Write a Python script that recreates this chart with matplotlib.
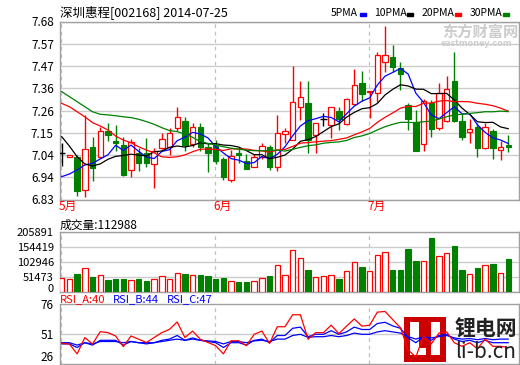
import numpy as np
import pandas as pd
import matplotlib
matplotlib.use('Agg')
import matplotlib.pyplot as plt
from matplotlib.patches import Rectangle

plt.rcParams['font.family'] = ['Noto Sans CJK SC', 'DejaVu Sans']

# 深圳惠程 日K 2014-05-05 ~ 2014-07-25 (59 trading days)
opens = [7.051, 7.033, 7.034, 6.875, 7.079, 7.034, 7.157, 7.109, 7.090, 6.971,
         7.051, 7.053, 6.998, 7.075, 7.081, 7.170, 7.205, 7.095, 7.175, 7.079,
         7.090, 7.023, 6.923, 7.051, 7.014, 6.987, 7.034, 7.079, 6.987, 7.143,
         7.115, 7.273, 7.289, 7.140, 7.213, 7.186, 7.254, 7.189, 7.285, 7.388,
         7.344, 7.340, 7.485, 7.510, 7.456, 7.281, 7.202, 7.094, 7.289, 7.170,
         7.205, 7.396, 7.206, 7.151, 7.175, 7.075, 7.157, 7.066, 7.090]
highs = [7.100, 7.043, 7.043, 7.234, 7.127, 7.178, 7.197, 7.186, 7.130, 7.117,
         7.075, 7.122, 7.075, 7.146, 7.170, 7.270, 7.225, 7.194, 7.197, 7.101,
         7.114, 7.034, 7.066, 7.079, 7.047, 7.047, 7.098, 7.090, 7.234, 7.170,
         7.469, 7.397, 7.396, 7.195, 7.242, 7.272, 7.270, 7.313, 7.452, 7.444,
         7.350, 7.536, 7.659, 7.568, 7.488, 7.290, 7.257, 7.310, 7.305, 7.388,
         7.420, 7.536, 7.238, 7.215, 7.197, 7.197, 7.165, 7.111, 7.138]
lows = [6.990, 7.031, 6.848, 6.840, 6.920, 7.030, 7.111, 7.063, 6.942, 6.939,
        6.968, 6.987, 6.886, 7.070, 7.043, 7.159, 7.063, 7.079, 7.063, 6.963,
        6.999, 6.923, 6.915, 7.003, 6.976, 6.985, 7.025, 6.971, 6.968, 7.101,
        7.112, 7.210, 7.053, 7.051, 7.181, 7.122, 7.162, 7.186, 7.283, 7.302,
        7.218, 7.297, 7.440, 7.440, 7.353, 7.162, 7.060, 7.060, 7.128, 7.160,
        7.200, 7.200, 7.114, 7.101, 7.034, 7.070, 7.022, 7.019, 7.055]
closes = [7.051, 7.041, 6.872, 7.070, 6.979, 7.156, 7.139, 7.101, 6.947, 7.106,
          7.006, 7.006, 7.062, 7.117, 7.148, 7.222, 7.090, 7.175, 7.079, 7.053,
          7.015, 6.939, 7.039, 7.043, 6.976, 7.034, 7.085, 6.987, 7.146, 7.157,
          7.297, 7.318, 7.114, 7.194, 7.213, 7.270, 7.213, 7.308, 7.375, 7.332,
          7.348, 7.520, 7.520, 7.464, 7.428, 7.213, 7.063, 7.300, 7.167, 7.337,
          7.356, 7.205, 7.130, 7.167, 7.075, 7.175, 7.075, 7.079, 7.082]
volumes = [45980, 43580, 60740, 80300, 51470, 56280, 41180, 43580, 43580, 39120,
           43580, 37750, 43580, 52850, 43580, 63140, 60740, 56280, 57310, 53880,
           43580, 47010, 37750, 34320, 34320, 37750, 45980, 53880, 90590, 56280,
           142060, 114610, 74460, 49410, 52850, 56280, 43580, 70000, 100890, 84760,
           70000, 124910, 135200, 74460, 74460, 146530, 105350, 104320, 184270, 121480,
           131770, 156820, 74460, 59710, 81330, 90590, 95050, 63140, 112988]

# MA values before enough history
ma5_head = [6.939, 6.952, 6.971, 6.995]
ma10_head = [7.130, 7.085, 7.034, 7.000, 6.990, 7.000, 7.022, 7.036, 7.040]
ma20_head = [7.289, 7.273, 7.249, 7.225, 7.197, 7.181, 7.162, 7.133, 7.114, 7.101,
             7.082, 7.066, 7.053, 7.034, 7.031, 7.034, 7.043, 7.058, 7.070]
ma30_head = [7.345, 7.321, 7.297, 7.273, 7.249, 7.237, 7.234, 7.230, 7.225, 7.221,
             7.213, 7.202, 7.189, 7.173, 7.159, 7.154, 7.143, 7.127, 7.106, 7.098,
             7.090, 7.082, 7.075, 7.070, 7.066, 7.063, 7.063, 7.063, 7.066]

rsi_a = [43.4, 42.9, 34.7, 48.3, 42.9, 53.2, 52.4, 49.6, 40.7, 49.6,
         46.9, 44.2, 48.3, 52.4, 55.1, 61.3, 48.3, 53.7, 46.9, 44.2,
         41.5, 34.7, 45.6, 45.6, 41.5, 51.0, 53.7, 43.4, 57.3, 57.3,
         67.3, 67.3, 46.9, 52.4, 52.4, 58.6, 51.6, 57.8, 63.8, 57.8,
         58.6, 69.5, 70.0, 63.2, 56.5, 38.0, 32.0, 50.0, 43.0, 52.0,
         53.0, 44.0, 41.0, 44.0, 39.0, 47.0, 41.0, 41.0, 40.0]
rsi_b = [43, 43, 40, 44, 42, 46, 46, 46, 42, 45,
         44, 43, 44, 46, 47, 50, 46, 48, 46, 45,
         44, 40, 44, 44, 42, 46, 47, 44, 50, 50,
         56, 57, 49, 51, 51, 54, 51, 53, 57, 55,
         55, 60, 61, 58, 56, 48, 44, 49, 46, 50,
         51, 47, 45, 46, 44, 46, 44, 44, 44]
rsi_c = [44, 44, 42, 44, 43, 45, 45, 45, 44, 45,
         44, 44, 44, 45, 46, 47, 46, 47, 46, 45.5,
         45, 43, 45, 45, 44, 45.5, 46, 45, 47, 47,
         50, 51, 48.5, 49, 49, 50, 49, 50, 52, 51,
         51, 53, 54, 53, 52, 49, 47, 49, 48, 49,
         50, 48, 47, 47.5, 46.5, 47.5, 46.5, 47, 47]

month_labels = ['5月', '6月', '7月']
month_start = [0, 20, 40]
price_ticks = ['6.83', '6.94', '7.04', '7.15', '7.26', '7.36', '7.47', '7.57', '7.68']
vol_ticks = [0, 51473, 102946, 154419, 205891]
rsi_ticks = [26, 51, 76]

RED = '#ff0000'
GREEN = '#008000'
BLUE = '#0000ff'
GRID = '#cccccc'
FRAME = '#a0a0a0'

W, H = 520, 365
fig = plt.figure(figsize=(W / 100, H / 100), dpi=100)


def box(x0, y0, x1, y1):
    return [x0 / W, 1 - y1 / H, (x1 - x0) / W, (y1 - y0) / H]


def px(x, y):
    return x / W, 1 - y / H


ax1 = fig.add_axes(box(59.5, 21.5, 519, 199.5))
ax2 = fig.add_axes(box(59.5, 231.7, 519, 291.7))
ax3 = fig.add_axes(box(59.5, 304.3, 519, 364.3))

n = len(closes)
x = np.arange(n)
o = np.array(opens)
c = np.array(closes)
hi = np.array(highs)
lo = np.array(lows)
up = c > o
dn = c < o
flat = c == o
bw = 0.7

for ax in (ax1, ax2, ax3):
    ax.set_xlim(-0.29, 59.4)
    ax.set_xticks([])
    for s in ax.spines.values():
        s.set_color(FRAME)
        s.set_linewidth(1)
    ax.tick_params(axis='y', length=0, pad=4, labelsize=8.5)
    for m in month_start:
        ax.axvline(m - 0.08, color='#c0c0c0', lw=0.9, ls=(0, (3, 3)), zorder=0)

# price panel
ax1.set_ylim(6.83, 7.68)
ax1.set_yticks(np.linspace(6.83, 7.68, 9))
ax1.set_yticklabels(price_ticks)
ax1.yaxis.grid(True, color=GRID, lw=1)
ax1.set_axisbelow(True)

# wicks
ax1.vlines(x[dn], lo[dn], hi[dn], color=GREEN, lw=1, zorder=2)
ax1.vlines(x[up], c[up], hi[up], color=RED, lw=1, zorder=2)
ax1.vlines(x[up], lo[up], o[up], color=RED, lw=1, zorder=2)
ax1.vlines(x[flat], lo[flat], hi[flat], color='black', lw=1, zorder=2)
# bodies
ax1.bar(x[dn], o[dn] - c[dn], bottom=c[dn], width=bw, color=GREEN, edgecolor=GREEN, lw=0.8, zorder=3)
ax1.bar(x[up], c[up] - o[up], bottom=o[up], width=bw, facecolor='white', edgecolor=RED, lw=0.9, zorder=3)
ax1.hlines(c[flat], x[flat] - bw / 2 - 0.1, x[flat] + bw / 2 + 0.1, color='black', lw=1, zorder=3)

# moving averages
cs = pd.Series(closes)


def moving_avg(head, k):
    m = cs.rolling(k).mean().to_numpy()
    m[:k - 1] = head
    return m


ma_lines = [(ma5_head, 5, BLUE), (ma10_head, 10, 'black'), (ma20_head, 20, RED), (ma30_head, 30, GREEN)]
for head, k, col in ma_lines:
    ax1.plot(x, moving_avg(head, k), color=col, lw=0.9, zorder=4)

# month labels
for lab, m in zip(month_labels, month_start):
    ax1.text(m - 0.35, 6.83, lab, color=RED, fontsize=8.5, ha='left', va='top')

# volume panel
v = np.array(volumes)
vup = c >= o
ax2.set_ylim(0, 205891)
ax2.set_yticks(vol_ticks)
ax2.set_yticklabels([str(t) for t in vol_ticks])
ax2.tick_params(axis='y', labelsize=8)
ax2.get_yticklabels()[0].set_va('baseline')
ax2.yaxis.grid(True, color=GRID, lw=1)
ax2.set_axisbelow(True)
ax2.bar(x[~vup], v[~vup], width=bw, color=GREEN, edgecolor=GREEN, lw=0.8, zorder=3)
ax2.bar(x[vup], v[vup], width=bw, facecolor='white', edgecolor=RED, lw=0.9, zorder=3)

# RSI panel
ax3.set_ylim(26, 76)
ax3.set_yticks(rsi_ticks)
ax3.set_yticklabels([str(t) for t in rsi_ticks])
ax3.get_yticklabels()[0].set_va('bottom')
ax3.axhline(51, color=GRID, lw=1, zorder=0)
ax3.plot(x, rsi_c, color=BLUE, lw=0.9, zorder=3)
ax3.plot(x, rsi_b, color=BLUE, lw=0.9, zorder=3)
ax3.plot(x, rsi_a, color=RED, lw=0.9, zorder=4)

# titles
fig.text(*px(60, 12), '深圳惠程[002168] 2014-07-25', fontsize=9, va='center', ha='left')
legend_items = [('5PMA', BLUE, 331, 360), ('10PMA', 'black', 374, 407),
                ('20PMA', RED, 422, 455), ('30PMA', GREEN, 470, 503)]
for lab, col, lx, dx in legend_items:
    fig.text(*px(lx, 13), lab, fontsize=7.5, va='center', ha='left')
    fig.add_artist(Rectangle(px(dx, 15.5), 6 / W, 2.5 / H, color=col, transform=fig.transFigure))
fig.text(*px(60, 225), '成交量:112988', fontsize=8.5, va='center', ha='left')
fig.text(*px(60, 299), 'RSI_A:40', fontsize=8, color=RED, va='center', ha='left')
fig.text(*px(113, 299), 'RSI_B:44', fontsize=8, color=BLUE, va='center', ha='left')
fig.text(*px(167, 299), 'RSI_C:47', fontsize=8, color=BLUE, va='center', ha='left')

# watermarks
fig.text(*px(442, 32), '东方财富网', fontsize=11, fontweight='bold', color='#cccccc', va='center', ha='left')
fig.text(*px(441, 44), 'eastmoney.com', fontsize=6.5, fontweight='bold', color='#cccccc', va='center', ha='left')

ax3.add_patch(Rectangle(px(404, 362), 42 / W, 45 / H, transform=fig.transFigure,
                        facecolor='#cc0000', edgecolor='none', zorder=1, clip_on=False))
ax3.add_patch(Rectangle(px(410, 355), 9 / W, 33 / H, transform=fig.transFigure,
                        facecolor='white', edgecolor='none', zorder=1, clip_on=False))
ax3.add_patch(Rectangle(px(410, 355), 16 / W, 7 / H, transform=fig.transFigure,
                        facecolor='white', edgecolor='none', zorder=1, clip_on=False))
ax3.add_patch(Rectangle(px(431, 355), 9 / W, 33 / H, transform=fig.transFigure,
                        facecolor='white', edgecolor='none', zorder=1, clip_on=False))
fig.text(*px(455, 329), '锂电网', fontsize=15, fontweight='bold', color='#222222', va='center', ha='left')
fig.text(*px(455, 352), 'li-b.cn', fontsize=15, color='#222222', va='center', ha='left')

fig.savefig('out.png', dpi=100)
